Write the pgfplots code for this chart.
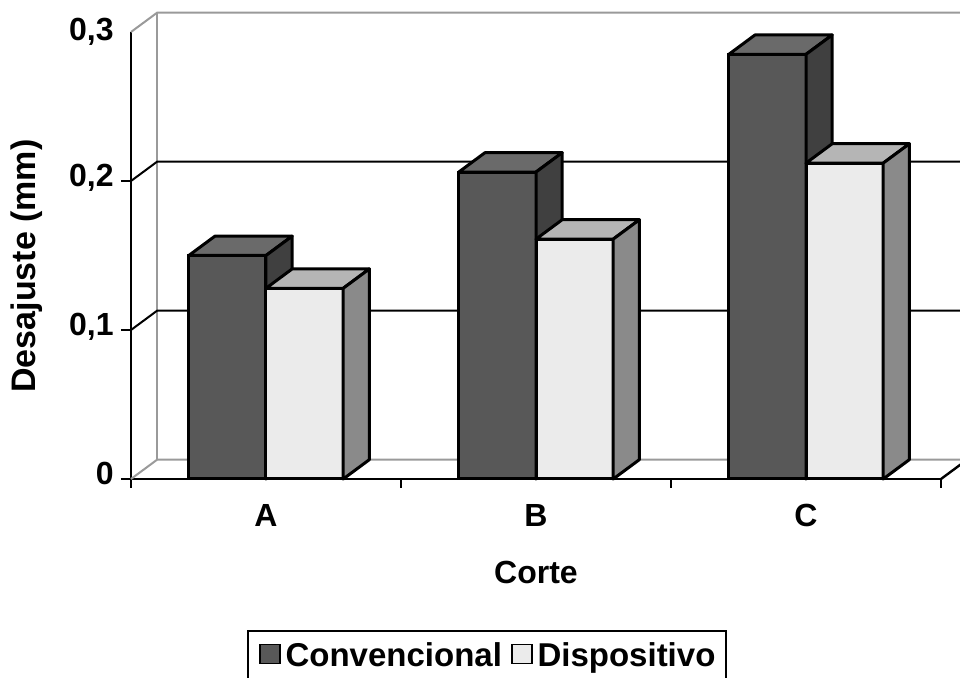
\documentclass[border=0pt]{standalone}
\usepackage{pgfplots}
\pgfplotsset{compat=1.18}
\usepackage{pgfplotstable}
\usepackage{fontspec}
\setmainfont{Liberation Sans}
\definecolor{convF}{HTML}{585858}
\definecolor{convT}{HTML}{6A6A6A}
\definecolor{convS}{HTML}{404040}
\definecolor{dispF}{HTML}{EBEBEB}
\definecolor{dispT}{HTML}{B5B5B5}
\definecolor{dispS}{HTML}{8A8A8A}
\definecolor{wall}{HTML}{9A9A9A}
\pgfplotstableread{
x conv disp
0.5 0.150 0.128
1.5 0.206 0.161
2.5 0.285 0.212
}\data
\newcommand\cf{\fontsize{16}{19}\selectfont\bfseries}
\newcommand\lf{\fontsize{16.5}{19}\selectfont\bfseries}
\newcommand\yf{\fontsize{17}{20}\selectfont\bfseries}
\pgfplotsset{sqlegend/.style={legend image code/.code={\draw[##1,line width=0.8pt,draw=black] (0pt,-3.5pt) rectangle (10pt,6pt);}}}
\begin{document}
\begin{tikzpicture}
\useasboundingbox (-65.5pt,-99.5pt) rectangle (414.5pt,239.5pt);
\begin{axis}[
 anchor=south west, at={(0pt,0pt)},
 x=135pt, y=745pt,
 xmin=0, xmax=3, ymin=0, ymax=0.3,
 clip=false,
 axis lines*=left,
 axis line style={line width=1.4pt},
 tick align=outside,
 major tick length=5pt, minor tick length=4.5pt,
 tick style={black, line width=1.2pt},
 xtick={0.5,1.5,2.5}, xticklabels={A,B,C},
 major x tick style={draw=none},
 minor xtick={0,1,2,3},
 ytick={0,0.1,0.2}, yticklabels={0,{0,1},{0,2}},
 extra y ticks={0.3}, extra y tick labels={0{,}3},
 extra y tick style={major tick style={draw=none}, yticklabel style={yshift=-1.5pt}},
 xticklabel style={font=\cf, anchor=base, inner sep=0pt, yshift=-19pt},
 yticklabel style={font=\cf, anchor=base east, inner sep=0pt, xshift=-3.5pt, yshift=-3pt},
 xlabel={Corte}, xlabel style={font=\cf, at={(axis description cs:0.5,-0.2327)}, anchor=base},
 ylabel={Desajuste (mm)}, ylabel style={font=\yf, at={(axis description cs:-0.1185,0.4765)}, anchor=base},
 legend columns=2,
 legend style={at={(axis description cs:0.1432,-0.3378)}, anchor=north west, draw=black, line width=1pt,
   font=\lf, inner xsep=5.5pt, inner ysep=6pt, column sep=0pt, nodes={inner sep=0pt},
   /tikz/every odd column/.append style={column sep=2.5pt},
   /tikz/every even column/.append style={column sep=4.5pt}},
]
% walls and gridlines
\addplot[wall, line width=1pt, forget plot] coordinates {(0,0) (0.097,0.013) (3.2,0.013)};
\addplot[wall, line width=1pt, forget plot] coordinates {(0,0.3) (0.097,0.313) (3.2,0.313)};
\addplot[wall, line width=1pt, forget plot] coordinates {(0.097,0.013) (0.097,0.313)};
\addplot[black, line width=1pt, forget plot] coordinates {(0,0.1) (0.097,0.113) (3.2,0.113)};
\addplot[black, line width=1pt, forget plot] coordinates {(0,0.2) (0.097,0.213) (3.2,0.213)};
\addplot[black, line width=1.2pt, forget plot] coordinates {(3,0) (3.097,0.013)};
% Convencional
\addplot[ybar, bar width=0.286, bar shift=-0.143, fill=convF, draw=black, line width=1.5pt, sqlegend] table[x=x,y=conv] {\data};
\addlegendentry{Convencional}
\addplot[fill=convT, draw=black, line width=1.5pt, line join=round, forget plot] coordinates {(0.214,0.150) (0.5,0.150) (0.597,0.163) (0.311,0.163)} -- cycle;
\addplot[fill=convS, draw=black, line width=1.5pt, line join=round, forget plot] coordinates {(0.5,0) (0.5,0.150) (0.597,0.163) (0.597,0.013)} -- cycle;
\addplot[fill=convT, draw=black, line width=1.5pt, line join=round, forget plot] coordinates {(1.214,0.206) (1.5,0.206) (1.597,0.219) (1.311,0.219)} -- cycle;
\addplot[fill=convS, draw=black, line width=1.5pt, line join=round, forget plot] coordinates {(1.5,0) (1.5,0.206) (1.597,0.219) (1.597,0.013)} -- cycle;
\addplot[fill=convT, draw=black, line width=1.5pt, line join=round, forget plot] coordinates {(2.214,0.285) (2.5,0.285) (2.597,0.298) (2.311,0.298)} -- cycle;
\addplot[fill=convS, draw=black, line width=1.5pt, line join=round, forget plot] coordinates {(2.5,0) (2.5,0.285) (2.597,0.298) (2.597,0.013)} -- cycle;
% Dispositivo
\addplot[ybar, bar width=0.286, bar shift=0.143, fill=dispF, draw=black, line width=1.5pt, sqlegend] table[x=x,y=disp] {\data};
\addlegendentry{Dispositivo}
\addplot[fill=dispT, draw=black, line width=1.5pt, line join=round, forget plot] coordinates {(0.5,0.128) (0.786,0.128) (0.883,0.141) (0.597,0.141)} -- cycle;
\addplot[fill=dispS, draw=black, line width=1.5pt, line join=round, forget plot] coordinates {(0.786,0) (0.786,0.128) (0.883,0.141) (0.883,0.013)} -- cycle;
\addplot[fill=dispT, draw=black, line width=1.5pt, line join=round, forget plot] coordinates {(1.5,0.161) (1.786,0.161) (1.883,0.174) (1.597,0.174)} -- cycle;
\addplot[fill=dispS, draw=black, line width=1.5pt, line join=round, forget plot] coordinates {(1.786,0) (1.786,0.161) (1.883,0.174) (1.883,0.013)} -- cycle;
\addplot[fill=dispT, draw=black, line width=1.5pt, line join=round, forget plot] coordinates {(2.5,0.212) (2.786,0.212) (2.883,0.225) (2.597,0.225)} -- cycle;
\addplot[fill=dispS, draw=black, line width=1.5pt, line join=round, forget plot] coordinates {(2.786,0) (2.786,0.212) (2.883,0.225) (2.883,0.013)} -- cycle;
\end{axis}
\end{tikzpicture}
\end{document}
